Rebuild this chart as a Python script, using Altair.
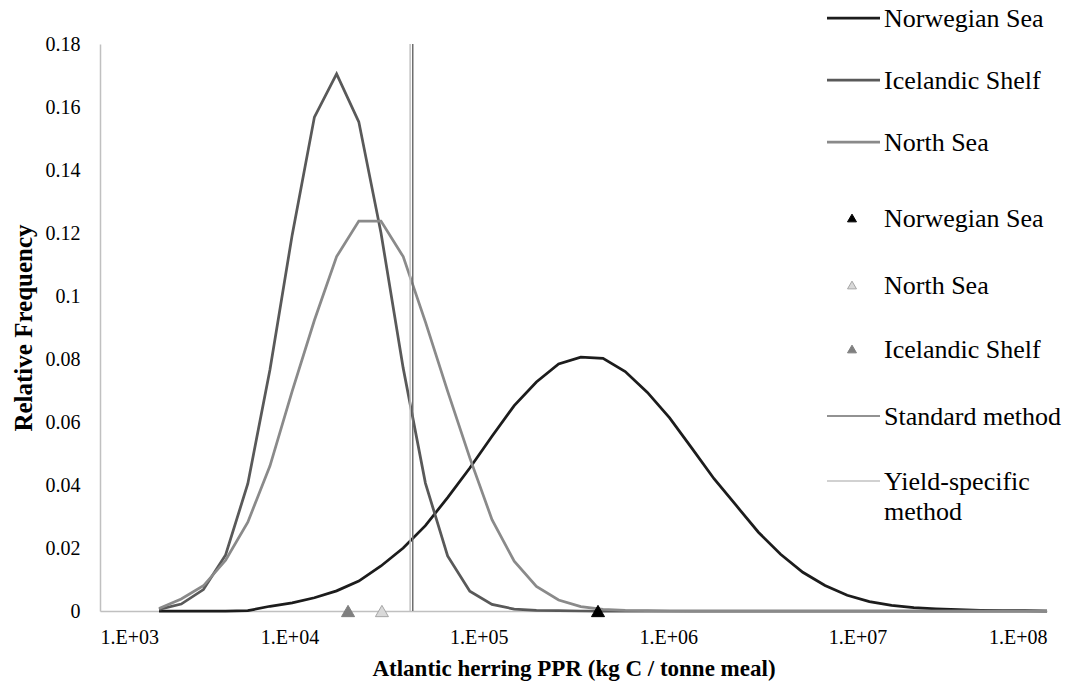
import altair as alt
import pandas as pd

# Log-spaced PPR bins (kg C / tonne meal)
ppr_bins = [2049, 2684, 3515, 4604, 6031, 7899, 10346, 13552, 17751, 23251,
            30455, 39890, 52250, 68440, 89650, 117420, 153800, 201450, 263870, 345630,
            452720, 592910, 776630, 1017200, 1332400, 1745200, 2285900, 2994200, 3921900, 5137300,
            6729000, 8813000, 11544000, 15120000, 19806000, 25943000, 33981000, 44510000, 58300000, 76370000,
            100000000]

# Relative frequency of each bin, per stock
freq_norwegian = [0, 0, 0, 0, 0.0001, 0.0015, 0.0026, 0.0042, 0.0064, 0.0095,
                  0.0143, 0.0200, 0.0271, 0.0360, 0.0454, 0.0555, 0.0652, 0.0727, 0.0784, 0.0806,
                  0.0802, 0.0760, 0.0694, 0.0613, 0.0517, 0.0420, 0.0335, 0.0250, 0.0180, 0.0123,
                  0.0081, 0.0050, 0.0030, 0.0018, 0.0011, 0.0007, 0.0004, 0.0002, 0.0001, 0.0001,
                  0]
freq_icelandic = [0.0005, 0.0022, 0.0068, 0.0178, 0.0404, 0.0767, 0.1194, 0.1568, 0.1705, 0.1553,
                  0.1200, 0.0771, 0.0406, 0.0175, 0.0063, 0.0021, 0.0006, 0.0002, 0.0001, 0,
                  0, 0, 0, 0, 0, 0, 0, 0, 0, 0,
                  0, 0, 0, 0, 0, 0, 0, 0, 0, 0,
                  0]
freq_north_sea = [0.0008, 0.0038, 0.0080, 0.0161, 0.0282, 0.0461, 0.0698, 0.0923, 0.1125, 0.1238,
                  0.1238, 0.1125, 0.0918, 0.0698, 0.0486, 0.0290, 0.0158, 0.0078, 0.0035, 0.0014,
                  0.0005, 0.0002, 0.0001, 0, 0, 0, 0, 0, 0, 0,
                  0, 0, 0, 0, 0, 0, 0, 0, 0, 0,
                  0]

# Point estimates per stock
point_regions = ["Norwegian Sea", "North Sea", "Icelandic Shelf"]
point_ppr = [426000, 30800, 20400]

# PPR from the two calculation methods
method_names = ["Standard method", "Yield-specific method"]
method_ppr = [44800, 43400]

x_ticks = [1e3, 1e4, 1e5, 1e6, 1e7, 1e8]
y_ticks = [0, 0.02, 0.04, 0.06, 0.08, 0.1, 0.12, 0.14, 0.16, 0.18]

SERIF = "Times New Roman, Liberation Serif, serif"
PLOT_W, PLOT_H = 947, 567

x_axis = alt.Axis(values=x_ticks, labelExpr="'1.E+0' + round(log(datum.value) / LN10)",
                  title="Atlantic herring PPR (kg C / tonne meal)", grid=False, ticks=False, tickSize=0,
                  labelPadding=16, titlePadding=10, labelFontSize=20, titleFontSize=23,
                  domainColor="#c0c0c0", domainWidth=1.5)
y_axis = alt.Axis(values=y_ticks, format="~g", title="Relative Frequency", grid=False, ticks=False,
                  tickSize=0, labelPadding=20, titlePadding=9, labelFontSize=20, titleFontSize=25,
                  domainColor="#c0c0c0", domainWidth=1.5)

x_enc = alt.X("ppr:Q", scale=alt.Scale(type="log", domain=[1e3, 1e8], nice=False), axis=x_axis)
y_enc = alt.Y("freq:Q", scale=alt.Scale(domain=[0, 0.18], nice=False), axis=y_axis)

curve_styles = [("Norwegian Sea", freq_norwegian, "#1c1c1c"),
                ("Icelandic Shelf", freq_icelandic, "#595959"),
                ("North Sea", freq_north_sea, "#8a8a8a")]

layers = []
for name, freq, colour in curve_styles:
    df = pd.DataFrame({"ppr": ppr_bins, "freq": freq, "stock": name})
    layers.append(alt.Chart(df).mark_line(color=colour, strokeWidth=2.75)
                  .encode(x=x_enc, y=y_enc))

# Vertical lines for the two method estimates
rule_colours = ["#6e6e6e", "#c2c2c2"]
for name, value, colour in zip(method_names, method_ppr, rule_colours):
    df = pd.DataFrame({"ppr": [value], "method": [name]})
    layers.append(alt.Chart(df).mark_rule(color=colour, strokeWidth=1.5).encode(x=x_enc))

# Triangles on the baseline
point_styles = {"Norwegian Sea": ("#000000", "#000000"),
                "North Sea": ("#d9d9d9", "#a6a6a6"),
                "Icelandic Shelf": ("#7f7f7f", "#7f7f7f")}
for name, value in zip(point_regions, point_ppr):
    fill, stroke = point_styles[name]
    df = pd.DataFrame({"ppr": [value], "freq": [0.0], "stock": [name]})
    layers.append(alt.Chart(df).mark_point(shape="triangle-up", filled=True, size=170, fill=fill,
                                           stroke=stroke, strokeWidth=1, opacity=1)
                  .encode(x=x_enc, y=y_enc))

# Legend, placed in pixels relative to the plot's top-left corner
LEG_ROW_Y = [-26, 36, 98, 174, 241, 305, 372, 437]
LEG_LINE_X0, LEG_LINE_X1 = 727, 780
LEG_MARK_X, LEG_TEXT_X = 752, 784

legend_entries = [
    ("line", "Norwegian Sea", {"color": "#1c1c1c", "w": 2.75}),
    ("line", "Icelandic Shelf", {"color": "#595959", "w": 2.75}),
    ("line", "North Sea", {"color": "#8a8a8a", "w": 2.75}),
    ("tri", "Norwegian Sea", {"fill": "#000000", "stroke": "#000000"}),
    ("tri", "North Sea", {"fill": "#d9d9d9", "stroke": "#a6a6a6"}),
    ("tri", "Icelandic Shelf", {"fill": "#7f7f7f", "stroke": "#7f7f7f"}),
    ("line", "Standard method", {"color": "#6e6e6e", "w": 1.5}),
    ("line", "Yield-specific\nmethod", {"color": "#c2c2c2", "w": 1.5}),
]

for y, (kind, label, style) in zip(LEG_ROW_Y, legend_entries):
    df = pd.DataFrame({"label": [label]})
    if kind == "line":
        layers.append(alt.Chart(df).mark_rule(color=style["color"], strokeWidth=style["w"])
                      .encode(x=alt.value(LEG_LINE_X0), x2=alt.value(LEG_LINE_X1), y=alt.value(y)))
    else:
        layers.append(alt.Chart(df).mark_point(shape="triangle-up", filled=True, size=80,
                                               fill=style["fill"], stroke=style["stroke"],
                                               strokeWidth=1, opacity=1)
                      .encode(x=alt.value(LEG_MARK_X), y=alt.value(y)))
    layers.append(alt.Chart(df).mark_text(align="left", baseline="alphabetic", dy=9, font=SERIF,
                                          fontSize=26, color="#000000", lineBreak="\n",
                                          lineHeight=30)
                  .encode(x=alt.value(LEG_TEXT_X), y=alt.value(y), text="label:N"))

chart = (
    alt.layer(*layers)
    .properties(width=PLOT_W, height=PLOT_H,
                autosize=alt.AutoSizeParams(type="none"),
                padding={"left": 100, "top": 44, "right": 36, "bottom": 78})
    .configure(background="white")
    .configure_view(stroke=None)
    .configure_axis(labelFont=SERIF, titleFont=SERIF, labelColor="#000000", titleColor="#000000",
                    titleFontWeight="bold")
)

chart.save("out.html", embed_options={"renderer": "svg", "actions": False})
